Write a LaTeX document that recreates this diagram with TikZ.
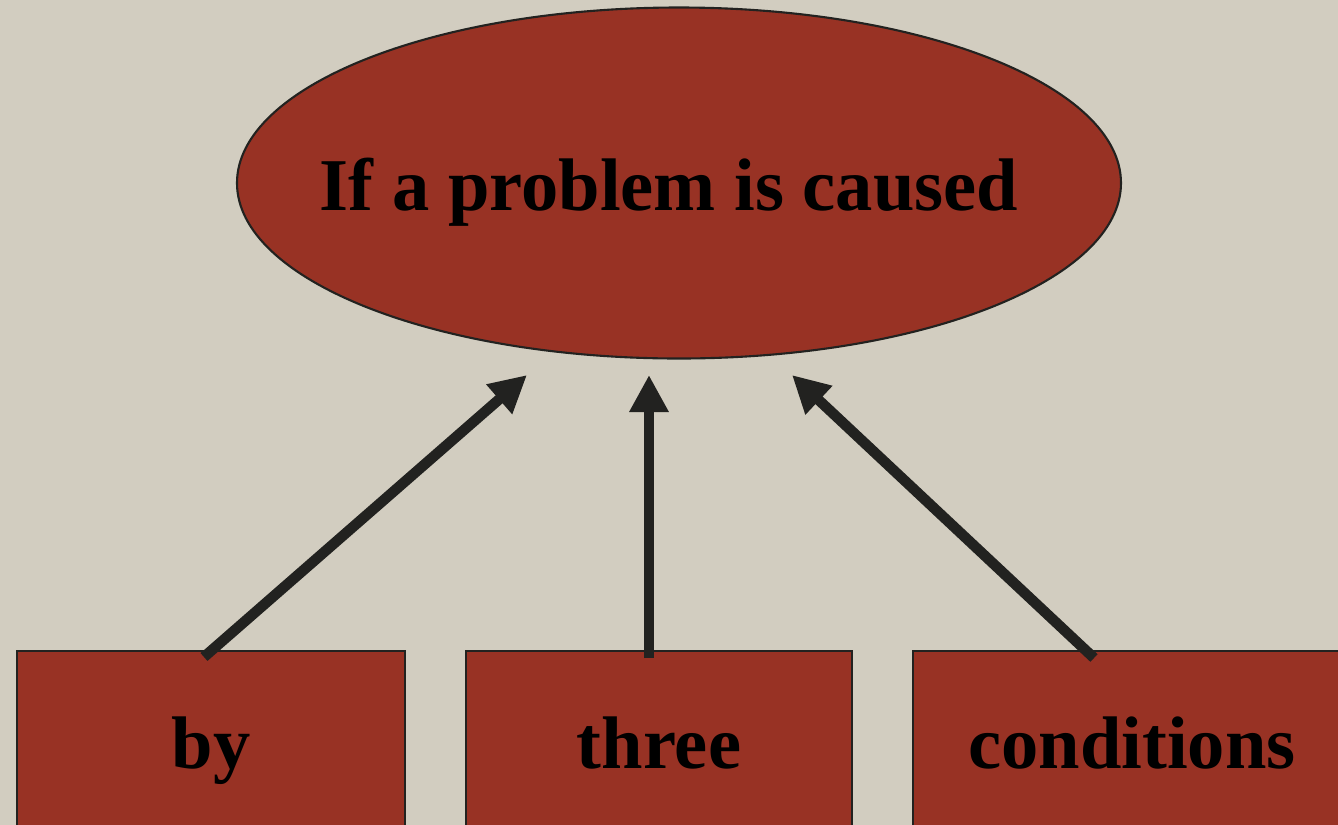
\documentclass[tikz,border=0pt]{standalone}
\usepackage{fontspec}
\setmainfont{Liberation Serif}
\usepackage{tikz}
\usepackage{xcolor}
\usetikzlibrary{arrows.meta,positioning,shapes.geometric,calc}
\definecolor{paper}{RGB}{210,205,192}
\definecolor{brick}{RGB}{152,50,36}
\definecolor{ink}{RGB}{34,34,32}

\begin{document}
\begin{tikzpicture}[>={Triangle[length=0.37cm,width=0.37cm]},
          txt/.style={font=\fontsize{21.2}{25}\selectfont\bfseries,text=black},
          bubble/.style={ellipse,draw=ink,line width=0.6pt,fill=brick,
                         minimum width=8.84cm,minimum height=3.51cm,inner sep=0pt},
          block/.style={draw=ink,line width=0.6pt,fill=brick,txt,anchor=north,
                        minimum width=3.88cm,minimum height=2.02cm,
                        text height=0.52cm,text depth=0.19cm},
          link/.style={->,ink,line width=0.105cm}]
        \useasboundingbox (0,0) rectangle (13.38,-8.25);
        \clip (0,0) rectangle (13.38,-8.25);
        \fill[paper] (0,0) rectangle (13.38,-8.25);
        \node[bubble,label={[txt,xshift=-0.10cm,text height=0.70cm,text depth=0.16cm]center:If a problem is caused}]
          (cause) at (6.79,-1.83) {};
        \node[block] (by) at (2.11,-6.50) {by};
        \node[block,minimum width=3.86cm] (three) at (6.59,-6.50) {three};
        \node[block,minimum width=4.38cm] (cond) at (11.32,-6.50) {conditions};
        % arrows up to the ellipse
        \draw[link] ($(by.north)+(-0.07,-0.07)$) -- ($(cause.center)+(-1.52,-1.92)$);
        \draw[link] ($(three.north)+(-0.10,-0.08)$) -- ($(cause.center)+(-0.30,-1.92)$);
        \draw[link] ($(cond.north)+(-0.38,-0.08)$) -- ($(cause.center)+(1.13,-1.92)$);
      \end{tikzpicture}
\end{document}
